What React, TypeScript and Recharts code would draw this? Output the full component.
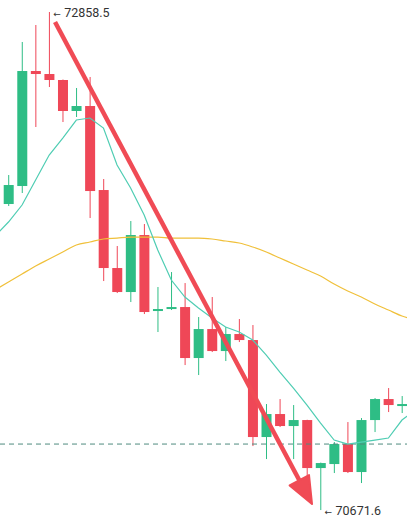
import React from "react";
import { ComposedChart, Bar, Line, XAxis, YAxis, ReferenceLine, ReferenceDot } from "recharts";

// candle index (phantom points at -1 and 30 carry only the moving averages that run off the edges)
const idx = [-1, 0, 1, 2, 3, 4, 5, 6, 7, 8, 9, 10, 11, 12, 13, 14, 15, 16, 17, 18, 19, 20, 21, 22, 23, 24, 25, 26, 27, 28, 29, 30];
const opens = [null, 72015.4, 72094.4, 72599.4, 72586.2, 72559.9, 72423.8, 72445.7, 72076.8, 71734.3, 71628.9, 71879.2, 71545.5, 71554.3, 71563.0, 71339.1, 71466.4, 71369.8, 71444.5, 71418.1, 70992.2, 71093.2, 71040.5, 71066.8, 70856.0, 70873.6, 70961.4, 70838.5, 71066.8, 71159.0, 71128.3, null];
const highs = [null, 72142.7, 72726.8, 72801.4, 72858.5, 72562.0, 72524.8, 72573.1, 72125.1, 71830.9, 71940.7, 71927.5, 71650.9, 71716.7, 71668.4, 71519.1, 71607.0, 71475.2, 71510.3, 71484.0, 71137.1, 71159.0, 71132.7, 71068.0, 70880.0, 70970.2, 71058.0, 71075.6, 71163.4, 71207.3, 71172.2, null];
const lows = [null, 72006.6, 72063.7, 72353.5, 72529.1, 72375.4, 72397.4, 71953.9, 71677.2, 71624.5, 71585.0, 71532.3, 71453.3, 71549.9, 71308.3, 71264.4, 71365.4, 71325.9, 71409.3, 70952.6, 70895.5, 71036.1, 70895.5, 70803.3, 70671.6, 70834.1, 70834.1, 70790.2, 71014.1, 71101.9, 71097.6, null];
const closes = [null, 72098.8, 72599.4, 72586.2, 72559.9, 72423.8, 72445.7, 72072.4, 71734.3, 71628.9, 71879.2, 71541.1, 71554.3, 71563.0, 71339.1, 71466.4, 71369.8, 71444.5, 71418.1, 70992.2, 71093.2, 71040.5, 71066.8, 70856.0, 70878.0, 70961.4, 70838.5, 71066.8, 71159.0, 71132.7, 71137.1, null];
const maFast = [71874.8, 71936.3, 72011.0, 72120.7, 72230.5, 72305.2, 72384.2, 72393.0, 72349.1, 72186.6, 72085.6, 71967.1, 71813.3, 71681.6, 71607.0, 71558.6, 71514.7, 71475.2, 71453.3, 71418.1, 71352.2, 71277.6, 71207.3, 71132.7, 71053.6, 70979.0, 70961.4, 70970.2, 70979.0, 70987.8, 71066.8, 71110.7];
const maSlow = [71637.7, 71672.8, 71708.0, 71743.1, 71773.8, 71804.6, 71835.3, 71848.5, 71861.7, 71866.0, 71870.4, 71870.4, 71870.4, 71866.0, 71866.0, 71866.0, 71861.7, 71852.9, 71844.1, 71826.5, 71804.6, 71778.2, 71751.9, 71725.5, 71699.2, 71664.0, 71633.3, 71607.0, 71576.2, 71549.9, 71523.5, 71506.0];

const markLevel = 70961.4;
const highLabel = { i: 3, price: 72858.5, text: "72858.5" };
const lowLabel = { i: 23, price: 70671.6, text: "70671.6" };
const arrowFrom = { x: 3.43, y: 72814.6 };
const arrowTo = { x: 22.37, y: 70697.9 };

const X_DOMAIN: [number, number] = [-0.626, 29.37];
const Y_DOMAIN: [number, number] = [70588.4, 72911.2];

const GREEN = "#2ebd85";
const RED = "#ef4757";
const ARROW = "#f04b55";

const data = idx.map((i, k) => ({
  i,
  open: opens[k],
  high: highs[k],
  low: lows[k],
  close: closes[k],
  range: lows[k] != null && highs[k] != null ? [lows[k], highs[k]] : undefined,
  fast: maFast[k],
  slow: maSlow[k],
}));

const Candle = (props: any) => {
  const { x, y, width, height, payload } = props;
  if (!payload || payload.open == null) return null;
  const { open, close, high, low } = payload;
  const top = Math.min(y, y + height);
  const h = Math.abs(height);
  const color = close >= open ? GREEN : RED;
  const ratio = high - low > 0 ? h / (high - low) : 0;
  const bTop = top + (high - Math.max(open, close)) * ratio;
  const bBot = top + (high - Math.min(open, close)) * ratio;
  const cx = x + width / 2;
  const bh = Math.max(bBot - bTop, 2);
  return (
    <g>
      <line x1={cx} x2={cx} y1={top} y2={top + h} stroke={color} strokeWidth={1} />
      <rect x={x} y={bTop} width={width} height={bh} fill={color} />
    </g>
  );
};

const ArrowShape = (p: any) => {
  const { x1, y1, x2, y2 } = p;
  const dx = x2 - x1;
  const dy = y2 - y1;
  const len = Math.hypot(dx, dy) || 1;
  const ux = dx / len;
  const uy = dy / len;
  const headLen = 27;
  const headW = 11;
  const bx = x2 - ux * headLen;
  const by = y2 - uy * headLen;
  const px = -uy;
  const py = ux;
  const pts = `${x2},${y2} ${bx + px * headW},${by + py * headW} ${bx - px * headW},${by - py * headW}`;
  return (
    <g>
      <line x1={x1} y1={y1} x2={bx + ux * 4} y2={by + uy * 4} stroke={ARROW} strokeWidth={4.5} strokeLinecap="butt" />
      <polygon points={pts} fill={ARROW} stroke={ARROW} strokeWidth={2} strokeLinejoin="round" />
    </g>
  );
};

const makeLabel = (text: string) => (p: any) => {
  const { cx, cy } = p;
  return (
    <text x={cx + 4} y={cy + 4.5} fill="#333" fontSize={12.5} fontFamily="Roboto, 'Liberation Sans', Arial, sans-serif">
      <tspan fontSize={9} fontFamily="'DejaVu Sans', sans-serif">←</tspan>
      <tspan x={cx + 15}>{text}</tspan>
    </text>
  );
};

export default function App() {
  return (
    <div style={{ position: "absolute", left: 0, top: 0, width: 407, height: 529, background: "#fff" }}>
      <ComposedChart width={407} height={529} data={data} margin={{ top: 0, right: 0, bottom: 0, left: 0 }}>
        <XAxis dataKey="i" type="number" domain={X_DOMAIN} allowDataOverflow hide />
        <YAxis type="number" domain={Y_DOMAIN} allowDataOverflow hide />
        <ReferenceLine y={markLevel} stroke="#4f8a7f" strokeDasharray="5 4" strokeWidth={1} />
        <Line dataKey="slow" stroke="#f0c03a" strokeWidth={1.2} dot={false} isAnimationActive={false} type="monotone" />
        <Line dataKey="fast" stroke="#4fcdb3" strokeWidth={1.2} dot={false} isAnimationActive={false} type="linear" />
        <Bar dataKey="range" barSize={10} shape={Candle} isAnimationActive={false} />
        <ReferenceLine segment={[arrowFrom, arrowTo]} shape={ArrowShape} />
        <ReferenceDot x={highLabel.i} y={highLabel.price} r={0} shape={makeLabel(highLabel.text)} />
        <ReferenceDot x={lowLabel.i} y={lowLabel.price} r={0} shape={makeLabel(lowLabel.text)} />
      </ComposedChart>
    </div>
  );
}
